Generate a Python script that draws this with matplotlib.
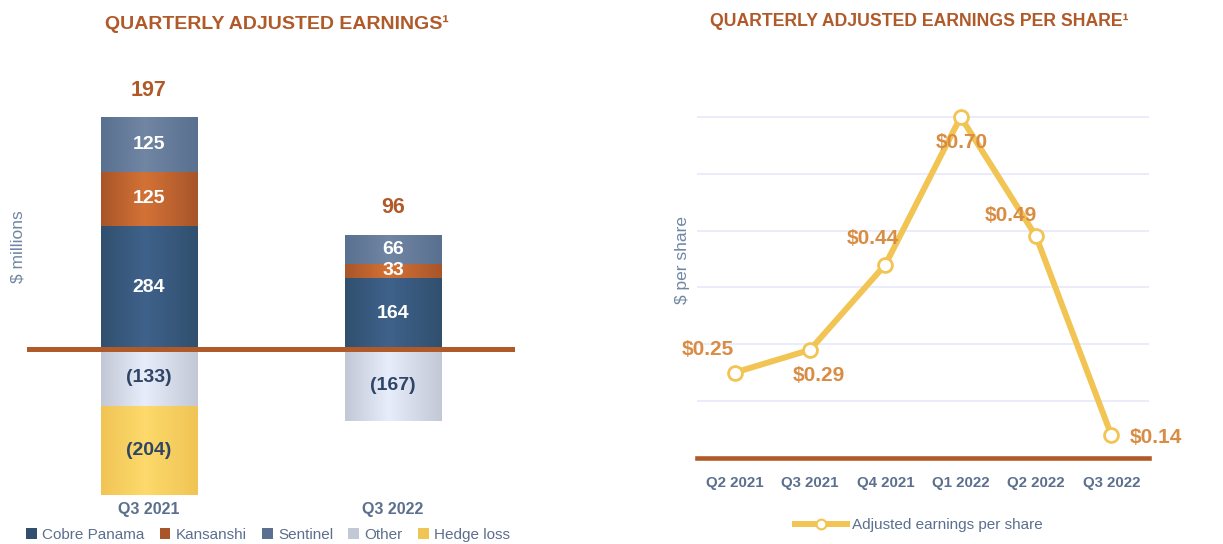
import numpy as np
import matplotlib
matplotlib.use('Agg')
import matplotlib.pyplot as plt
from matplotlib.colors import LinearSegmentedColormap
from matplotlib.patches import Patch
from matplotlib.lines import Line2D

plt.rcParams['font.family'] = ['Liberation Sans', 'DejaVu Sans']

# left chart data ($ millions)
quarters = ['Q3 2021', 'Q3 2022']
cobre = [284, 164]
kansanshi = [125, 33]
sentinel = [125, 66]
other = [-133, -167]
hedge = [-204, 0]
totals = [197, 96]

# right chart data
eps_quarters = ['Q2 2021', 'Q3 2021', 'Q4 2021', 'Q1 2022', 'Q2 2022', 'Q3 2022']
eps = [0.25, 0.29, 0.44, 0.70, 0.49, 0.14]

BROWN = '#B05A2A'
NAVY_TXT = '#2E4566'
TICK = '#5B6F8E'
YLAB = '#7086A3'

# (edge, centre) colours for gradient bars
cols = {
    'Cobre Panama': ('#31506F', '#3F628B'),
    'Kansanshi': ('#A8552A', '#D47236'),
    'Sentinel': ('#5A7090', '#7086A3'),
    'Other': ('#C2C8D6', '#E7EDFB'),
    'Hedge loss': ('#F0C455', '#FCDA6B'),
}

W, H = 1223, 544
fig = plt.figure(figsize=(W / 100, H / 100), dpi=100)


def px_axes(l, r, t, b):
    return fig.add_axes([l / W, 1 - b / H, (r - l) / W, (b - t) / H])


def grad_fill(ax, rect, edge, centre):
    cmap = LinearSegmentedColormap.from_list('g', [(0, edge), (0.45, centre), (1, edge)])
    x, y = rect.get_x(), rect.get_y()
    w, h = rect.get_width(), rect.get_height()
    if h == 0:
        return
    g = np.linspace(0, 1, 128).reshape(1, -1)
    ax.imshow(g, cmap=cmap, extent=[x, x + w, min(y, y + h), max(y, y + h)],
              aspect='auto', zorder=2, interpolation='bilinear')


# ---------- left: stacked bars ----------
ax1 = px_axes(27, 515, 60, 500)
x = np.arange(len(quarters))
bw = 0.3975
segs = [('Cobre Panama', cobre), ('Kansanshi', kansanshi), ('Sentinel', sentinel)]
bottom = np.zeros(2)
for name, vals in segs:
    bars = ax1.bar(x, vals, bw, bottom=bottom, color='none')
    for b, v, bt in zip(bars, vals, bottom):
        grad_fill(ax1, b, *cols[name])
        ax1.text(b.get_x() + bw / 2, bt + v / 2, str(v), ha='center', va='center',
                 color='white', fontsize=14, fontweight='bold', zorder=5)
    bottom = bottom + np.array(vals)

nbottom = np.zeros(2)
for name, vals in [('Other', other), ('Hedge loss', hedge)]:
    bars = ax1.bar(x, vals, bw, bottom=nbottom, color='none')
    for b, v, bt in zip(bars, vals, nbottom):
        if v == 0:
            continue
        grad_fill(ax1, b, *cols[name])
        ax1.text(b.get_x() + bw / 2, bt + v / 2, '(%d)' % -v, ha='center', va='center',
                 color=NAVY_TXT, fontsize=14, fontweight='bold', zorder=5)
    nbottom = nbottom + np.array(vals)

for xi, t, top in zip(x, totals, bottom):
    ax1.annotate(str(t), (xi, top), xytext=(0, 27), textcoords='offset pixels',
                 ha='center', va='center', color=BROWN, fontsize=15.5, fontweight='bold')

ax1.axhline(0, color=BROWN, lw=3.6, zorder=4)
ax1.set_xlim(-0.5, 1.5)
ax1.set_ylim(-349, 667)
ax1.axis('off')
for xi, q in zip(x, quarters):
    ax1.text(xi, -0.021, q, transform=ax1.get_xaxis_transform(), ha='center', va='center',
             color=TICK, fontsize=11.5, fontweight='bold')

fig.text(277 / W, 1 - 24 / H, 'QUARTERLY ADJUSTED EARNINGS\u00b9', ha='center', va='center',
         color=BROWN, fontsize=14, fontweight='bold')
fig.text(18 / W, 1 - 247 / H, '$ millions', rotation=90, ha='center', va='center',
         color=YLAB, fontsize=12.5)

handles = [Patch(facecolor=cols[n][0], edgecolor='none') for n in cols]
fig.legend(handles, list(cols), loc='center', bbox_to_anchor=(268 / W, 1 - 535 / H),
           ncol=5, frameon=False, fontsize=11, handlelength=0.7, handleheight=0.7,
           handletextpad=0.35, columnspacing=1.0, labelcolor=TICK, borderpad=0)

# ---------- right: EPS line ----------
ax2 = px_axes(697, 1149, 105.6, 457.8)
xe = np.arange(len(eps_quarters))
LINE = '#F2C453'
ax2.plot(xe, eps, color=LINE, lw=4.3, marker='o', ms=10, mfc='white', mec=LINE,
         mew=2, zorder=4, clip_on=False)
offsets = [(-27, 23), (9, -26), (-13, 26), (1, -26), (-25, 21), (45, -2)]
for xi, v, off in zip(xe, eps, offsets):
    ax2.annotate('$%.2f' % v, (xi, v), xytext=off, textcoords='offset pixels',
                 ha='center', va='center', color='#D88C44', fontsize=15,
                 fontweight='bold', zorder=5)
ax2.set_xlim(-0.5, 5.5)
ax2.set_ylim(0.1, 0.72)
ax2.set_yticks([0.2, 0.3, 0.4, 0.5, 0.6, 0.7])
ax2.yaxis.grid(True, color='#E6EAF8', lw=1.2)
ax2.set_axisbelow(True)
ax2.tick_params(axis='y', length=0, labelleft=False)
ax2.set_xticks(xe)
ax2.set_xticklabels(eps_quarters, color=TICK, fontsize=10.8, fontweight='bold')
ax2.tick_params(axis='x', length=0, pad=13)
for s in ax2.spines.values():
    s.set_visible(False)
ax2.axhline(0.1, color=BROWN, lw=3.3, zorder=3, clip_on=False)

fig.text(919 / W, 1 - 21 / H, 'QUARTERLY ADJUSTED EARNINGS PER SHARE\u00b9', ha='center',
         va='center', color=BROWN, fontsize=12.7, fontweight='bold')
fig.text(683 / W, 1 - 260 / H, '$ per share', rotation=90, ha='center', va='center',
         color=YLAB, fontsize=12.5)

lh = Line2D([], [], color=LINE, lw=4.3, marker='o', ms=7, mfc='white', mec=LINE, mew=1.5)
fig.legend([lh], ['Adjusted earnings per share'], loc='center',
           bbox_to_anchor=(919 / W, 1 - 525 / H), frameon=False, fontsize=11,
           handlelength=3.4, handletextpad=0.3, labelcolor=TICK, borderpad=0)

fig.savefig('out.png', dpi=100)
